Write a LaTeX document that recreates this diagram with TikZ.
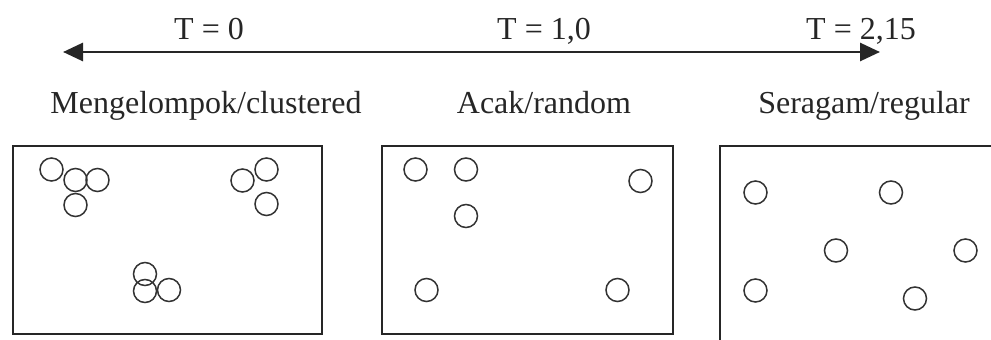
\documentclass[tikz,border=0pt]{standalone}
\usepackage{fontspec}
\setmainfont{Liberation Serif}
\usetikzlibrary{arrows.meta}
\begin{document}
\begin{tikzpicture}[x=1pt,y=-1pt,
  lbl/.style={font=\fontsize{32}{36}\selectfont, inner sep=0pt, anchor=base, text=black!85},
  dot/.style={circle, draw=black!80, line width=1.5pt, minimum size=23pt, inner sep=0pt},
  frame/.style={draw=black!85, line width=2pt},
  axis/.style={draw=black!85, line width=2.8pt,
    {Triangle[length=20pt,width=18pt]}-{Triangle[length=20pt,width=18pt]}}]
\useasboundingbox (0,0) rectangle (991,340);
\clip (0,0) rectangle (991,340);

% index scale
\coordinate (aL) at (63,52);
\coordinate (aR) at (880,52);
\draw[axis] (aL) -- (aR);
\node[lbl] (tzero) at (209,39) {T = 0};
\node[lbl] (tone)  at (544,39) {T = 1,0};
\node[lbl] (ttwo)  at (861,39) {T = 2,15};

% pattern names
\node[lbl] (nclu) at (206,113) {Mengelompok/clustered};
\node[lbl] (nran) at (544,113) {Acak/random};
\node[lbl] (nreg) at (864,113) {Seragam/regular};

% plots
\draw[frame] (12.5,146) rectangle (322,334);
\draw[frame] (381.5,146) rectangle (672.5,334);
\draw[frame] (720,146) rectangle (1010,360);

% clustered
\foreach \x/\y [count=\i] in {51.5/169.5, 75.5/180, 97.5/180, 75.5/205,
    266.5/169.5, 242.5/180.5, 266.5/204, 145/274, 145/291, 169/290}
  \node[dot] (c\i) at (\x,\y) {};

% random
\foreach \x/\y [count=\i] in {415.5/169.5, 466/169.5, 640.5/181, 466/216,
    426.5/290, 617.5/290}
  \node[dot] (r\i) at (\x,\y) {};

% regular
\foreach \x/\y [count=\i] in {755.5/192.5, 891/192.5, 836/250.5, 965.5/250.5,
    755.5/290.5, 915/298.5}
  \node[dot] (g\i) at (\x,\y) {};
\end{tikzpicture}
\end{document}
